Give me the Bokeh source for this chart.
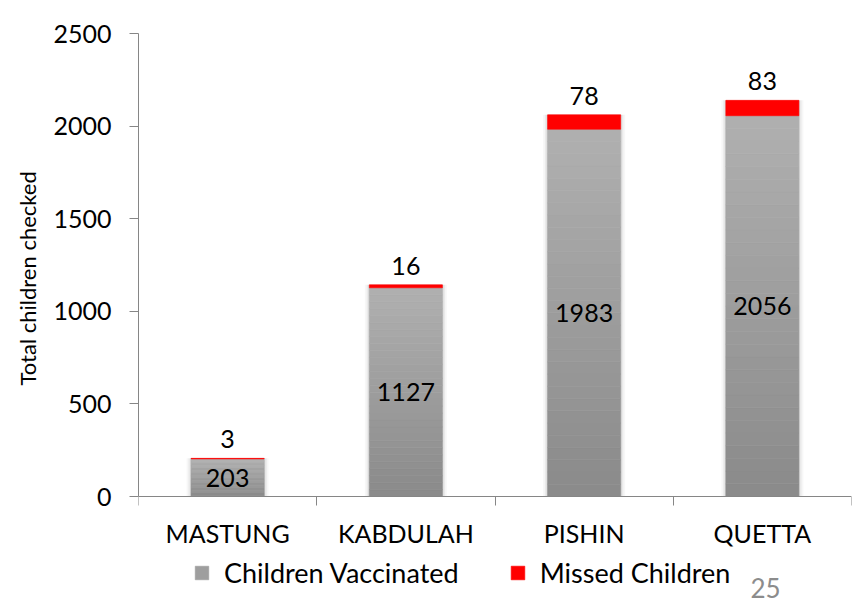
import numpy as np
from bokeh.plotting import figure
from bokeh.models import (FixedTicker, CustomJSTickFormatter, Legend, LegendItem,
                          Label, Range1d, ColumnDataSource, Title)
from bokeh.embed import file_html
from bokeh.resources import INLINE
from bokeh.core.properties import value

# ---- data ----
districts = ["MASTUNG", "KABDULAH", "PISHIN", "QUETTA"]
vaccinated = [203, 1127, 1983, 2056]
missed = [3, 16, 78, 83]
y_ticks = [0, 500, 1000, 1500, 2000, 2500]
y_max = 2500
y_title = "Total children checked"
slide_number = "25"

FONT = "Lato"
FS = "25px"
AXIS_GREY = "#868686"
BAR_W = 0.41
N = 30  # gradient slices per bar

# layout (pixels)
W, H = 854, 604
LEFT, TOP, RIGHT = 138, 33, 3
PLOT_H = 463          # pixel height of the 0..y_max span
BELOW = H - TOP - PLOT_H  # room under the zero line (axis labels, legend)
y_low = -y_max * BELOW / PLOT_H

pos = [i + 0.5 for i in range(len(districts))]
totals = [v + m for v, m in zip(vaccinated, missed)]

p = figure(width=W, height=H,
           x_range=Range1d(0, len(districts)), y_range=Range1d(y_low, y_max),
           output_backend="svg", toolbar_location=None,
           min_border_left=LEFT, min_border_right=RIGHT,
           min_border_top=TOP, min_border_bottom=0)
p.outline_line_color = None
p.xgrid.visible = False
p.ygrid.visible = False
p.background_fill_color = "white"
p.border_fill_color = "white"

# soft shadow around bars
for w, a in [(BAR_W + 0.05, 0.03), (BAR_W + 0.03, 0.05), (BAR_W + 0.012, 0.08)]:
    p.vbar(x=pos, top=totals, width=w, color="black", alpha=a, line_color=None)

# gradient grey bars built from slices of each bar's value
dark = np.array([0x8a, 0x8a, 0x8a], dtype=float)
light = np.array([0xb0, 0xb0, 0xb0], dtype=float)
sx, sb, st, sc = [], [], [], []
for x, v in zip(pos, vaccinated):
    for k in range(N):
        t = (k + 0.5) / N
        c = dark + (light - dark) * t
        sx.append(x)
        sb.append(v * k / N)
        st.append(v * (k + 1) / N)
        sc.append("#%02x%02x%02x" % tuple(int(round(q)) for q in c))
src = ColumnDataSource(dict(x=sx, bottom=sb, top=st, color=sc))
r_vac = p.vbar(x="x", bottom="bottom", top="top", width=BAR_W, fill_color="color",
               line_color="color", line_width=0.5, source=src)

r_miss = p.vbar(x=pos, bottom=vaccinated, top=totals, width=BAR_W,
                fill_color="#ff0000", line_color="#ff0000", line_width=0.6)

# data labels
p.text(x=pos, y=[v / 2 for v in vaccinated], text=[str(v) for v in vaccinated],
       text_align="center", text_baseline="middle", text_font=value(FONT),
       text_font_size=FS, text_color="black")
p.text(x=pos, y=totals, text=[str(m) for m in missed],
       text_align="center", text_baseline="bottom", y_offset=-10,
       text_font=value(FONT), text_font_size=FS, text_color="black")

# x axis drawn at y = 0: labels at centres, ticks at category boundaries
xa = p.xaxis[0]
xa.fixed_location = 0
xa.ticker = FixedTicker(ticks=pos, minor_ticks=list(range(len(districts) + 1)))
xa.formatter = CustomJSTickFormatter(args=dict(names=districts),
                                     code="return names[Math.floor(tick)];")
xa.major_tick_out = 0
xa.major_tick_in = 0
xa.minor_tick_out = 9
xa.minor_tick_in = 0
xa.minor_tick_line_color = AXIS_GREY
xa.axis_line_color = AXIS_GREY
xa.major_label_standoff = 12
xa.major_label_text_font = FONT
xa.major_label_text_font_size = FS
xa.major_label_text_color = "black"

ya = p.yaxis[0]
ya.bounds = (0, y_max)
ya.ticker = FixedTicker(ticks=y_ticks)
ya.major_tick_out = 9
ya.major_tick_in = 0
ya.major_tick_line_color = AXIS_GREY
ya.minor_tick_line_color = None
ya.axis_line_color = AXIS_GREY
ya.major_label_standoff = 18
ya.major_label_text_font = FONT
ya.major_label_text_font_size = FS
ya.major_label_text_color = "black"

# y axis title, placed along the 0..y_max span rather than the whole frame
p.add_layout(Title(text=y_title, align="left", offset=219, standoff=20,
                   text_font=FONT, text_font_size="22px", text_font_style="normal",
                   text_color="black"), "left")

legend = Legend(items=[
    LegendItem(label="Children Vaccinated", renderers=[r_vac], index=N // 2),
    LegendItem(label="Missed Children", renderers=[r_miss]),
], location=(55, 15), orientation="horizontal",
    glyph_width=17, glyph_height=17, label_standoff=14, spacing=50,
    padding=0, margin=0, border_line_color=None, background_fill_alpha=0,
    label_text_font=FONT, label_text_font_size="27px", label_text_color="black")
p.add_layout(legend)

p.add_layout(Label(x=627, y=17, x_units="screen", y_units="screen", text=slide_number,
                   text_color="#8c8c8c", text_font=FONT, text_font_size="26px",
                   text_align="center", text_baseline="middle"))

open("out.html", "w").write(file_html(p, INLINE))
